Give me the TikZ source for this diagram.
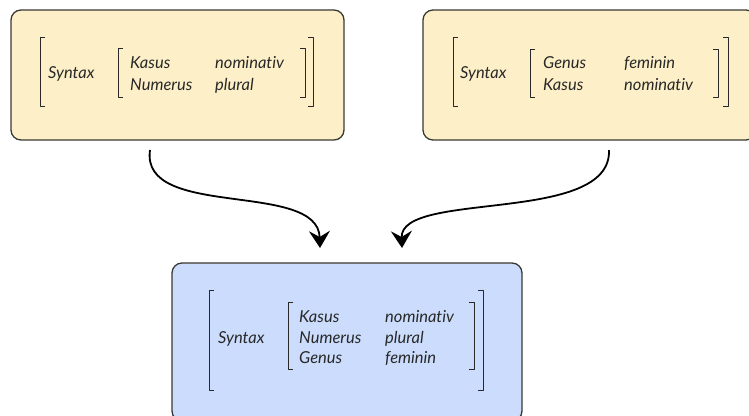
\documentclass[tikz,border=0pt]{standalone}
\usepackage{fontspec}
\setmainfont[Ligatures=NoCommon]{Lato}
\usetikzlibrary{arrows.meta,positioning}
\definecolor{featyellow}{RGB}{253,240,200}
\definecolor{featblue}{RGB}{203,220,252}
\definecolor{boxline}{RGB}{58,56,50}
\definecolor{avmtext}{RGB}{40,40,40}

\begin{document}
\begin{tikzpicture}[x=1pt,y=-1pt,node distance=79pt,line join=round]
\tikzstyle{input box}=[rectangle,rounded corners=10pt,draw=boxline,line width=1.3pt,fill=featyellow,minimum width=333pt,minimum height=130pt,outer sep=0pt,inner sep=0pt]
\tikzstyle{result box}=[input box,fill=featblue,minimum width=350pt,minimum height=158pt]

\tikzset{
	feat/.style={anchor=base west,inner sep=0pt,font=\fontsize{16.5}{18}\selectfont\itshape,text=avmtext},
	bracket/.style={draw=avmtext,line width=1pt},
	merge arrow/.style={-{Stealth[length=17pt,width=21pt,inset=6pt]},line width=1.8pt}
}

\useasboundingbox (0,0) rectangle (749,415);

      \node[input box] (A) at (177.5,75) {};
      \node[input box] (B) [right=of A] {};
      \node[result box] (C) at (347,342) {};

      % left input
      \node[feat] (synA) at (48,78) {Syntax};
      \node[feat] (kasA) at (130,68) {Kasus};
      \node[feat] (numA) at (130,90) {Numerus};
      \node[feat] (kasvA) at (215,68) {nominativ};
      \node[feat] (numvA) at (215,90) {plural};

      % right input
      \node[feat] (synB) at (460,78) {Syntax};
      \node[feat] (genB) at (543,68) {Genus};
      \node[feat] (kasB) at (543,90) {Kasus};
      \node[feat] (genvB) at (624,68) {feminin};
      \node[feat] (kasvB) at (624,90) {nominativ};

      % result
      \node[feat] (synC) at (218,343) {Syntax};
      \node[feat] (kasC) at (299,322) {Kasus};
      \node[feat] (numC) at (299,343) {Numerus};
      \node[feat] (genC) at (299,363) {Genus};
      \node[feat] (kasvC) at (385,322) {nominativ};
      \node[feat] (numvC) at (385,343) {plural};
      \node[feat] (genvC) at (385,363) {feminin};

      \foreach \x/\t/\b in {40/37/106, 118/48/97, 453/37/106, 530/49/97, 209/290/390, 288/302/369}
        \draw[bracket] (\x+5,\t) -| (\x,\b) -- (\x+5,\b);
      \foreach \x/\t/\b in {313/37/106, 305/48/97, 728/37/106, 718/49/97, 483/290/390, 474/302/369}
        \draw[bracket] (\x-5,\t) -| (\x,\b) -- (\x-5,\b);

    \draw[merge arrow] ([xshift=-27.5pt,yshift=-10pt]A.south) .. controls +(-10,70) and +(-2,-68) .. ([xshift=-27pt,yshift=15pt]C.north);
    \draw[merge arrow] ([xshift=19.5pt,yshift=-10pt]B.south) .. controls +(3,75) and +(-2,-58) .. ([xshift=55pt,yshift=15pt]C.north);
\end{tikzpicture}
\end{document}
